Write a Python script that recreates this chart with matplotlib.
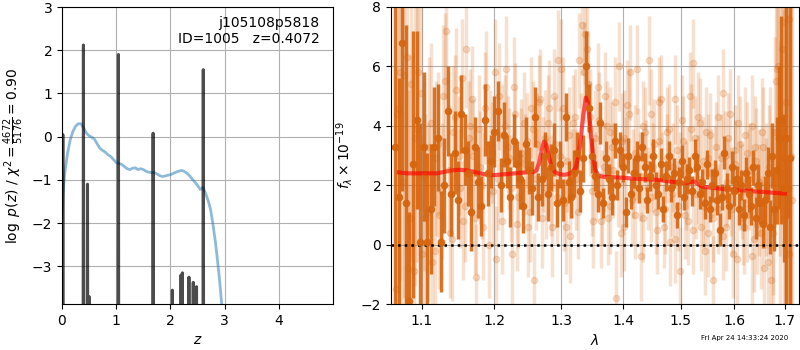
import numpy as np
import matplotlib
matplotlib.use("Agg")
import matplotlib.pyplot as plt
from matplotlib.ticker import ScalarFormatter, NullFormatter, FixedLocator, NullLocator

# ---------------- left panel data ----------------
chi_z = [0.0, 0.02, 0.05, 0.1, 0.15, 0.2, 0.25, 0.3, 0.35, 0.4, 0.45, 0.5, 0.55, 0.6,
         0.65, 0.7, 0.75, 0.8, 0.85, 0.9, 0.95, 1.0, 1.05, 1.1, 1.15, 1.2, 1.25, 1.3,
         1.35, 1.4, 1.45, 1.5, 1.55, 1.6, 1.65, 1.7, 1.75, 1.8, 1.85, 1.9, 1.95, 2.0,
         2.05, 2.1, 2.15, 2.2, 2.25, 2.3, 2.35, 2.4, 2.45, 2.5, 2.55, 2.6, 2.65, 2.7,
         2.74, 2.78, 2.83, 2.87, 2.9, 2.95]
chi_logp = [-1.9, -1.3, -0.85, -0.4, -0.08, 0.12, 0.24, 0.3, 0.3, 0.2, 0.08, 0.02, -0.01, -0.06,
            -0.17, -0.27, -0.32, -0.36, -0.42, -0.46, -0.53, -0.6, -0.62, -0.64, -0.69, -0.74, -0.76, -0.73,
            -0.72, -0.76, -0.74, -0.76, -0.8, -0.82, -0.83, -0.83, -0.86, -0.9, -0.92, -0.91, -0.89, -0.88,
            -0.85, -0.82, -0.8, -0.78, -0.8, -0.84, -0.9, -0.98, -1.05, -1.13, -1.22, -1.17, -1.32, -1.5,
            -1.69, -2.0, -2.45, -2.9, -3.25, -3.95]

peak_z = [0.015, 0.395, 0.47, 0.50, 1.04, 1.68, 2.035, 2.195, 2.22, 2.34, 2.42, 2.48, 2.605]
peak_logp = [0.05, 2.12, -1.1, -3.7, 1.9, 0.08, -3.55, -3.2, -3.15, -3.25, -3.37, -3.47, 1.55]

# ---------------- right panel data ----------------
dark_start, dark_step = 1.065, 0.00465
dark_flux = [
    3.3, 1.6, 6.8, 1.4, -1.9, 2.7, 4.2, 0.1, 3.3, 0.1,
    1.2, 3.3, 3.6, 0.1, 2.0, 4.5, 1.7, 3.1, 1.5, 4.4,
    3.2, 2.4, 1.1, 3.3, 2.1, 1.3, 4.2, 2.4, 2.8, 3.8,
    4.5, 2.0, 3.7, 2.8, 1.6, 3.5, 2.7, 2.2, 1.3, 3.4,
    2.5, 1.9, 4.3, 1.6, 2.2, 3.0, 1.7, 2.6, 3.2, 1.4,
    2.7, 1.5, 4.3, 2.1, 1.6, 2.4, 3.1, 1.8, 2.9, 6.0,
    4.6, 3.0, 2.3, 1.7, 4.1, 1.4, 2.9, 2.2, 1.6, 3.5,
    2.0, 3.2, 2.6, 1.1, 3.0, 1.7, 2.4, 2.9, 1.9, 3.3,
    2.6, 1.5, 2.3, 3.0, 2.0, 1.7, 2.7, 1.2, 2.3, 3.0,
    1.9, 2.4, 1.0, 2.1, 2.8, 1.6, 2.2, 2.5, 1.8, 3.0,
    2.6, 1.7, 2.1, 1.4, 2.7, 1.2, 2.0, 2.4, 1.5, 0.5,
    1.6, 3.1, 1.9, 1.3, 2.6, 1.8, 2.2, 1.2, 2.0, 1.0,
    2.4, 1.7, 1.3, 2.6, 0.9, 2.0, 1.4, 0.7, 1.5, 2.4,
    0.6, 3.0, 1.2, 2.5, 3.6, 4.2, 1.9, 3.6, 1.9, 2.9]
dark_err = [
    7.0, 4.0, 5.0, 6.0, 3.0, 4.5, 3.0, 4.0, 2.5, 3.0,
    2.2, 2.0, 1.8, 1.7, 1.6, 1.5, 1.4, 1.4, 1.3, 1.3,
    1.2, 1.1, 1.3, 1.0, 1.2, 1.0, 1.2, 1.1, 0.9, 1.2,
    1.0, 0.9, 1.1, 0.9, 1.0, 0.9, 0.8, 1.0, 0.9, 0.9,
    0.8, 0.9, 1.0, 0.8, 0.9, 0.8, 0.9, 0.8, 0.9, 0.8,
    0.8, 0.7, 0.8, 0.7, 0.7, 0.8, 0.7, 0.7, 0.8, 1.2,
    0.8, 0.6, 0.5, 0.6, 0.7, 0.5, 0.6, 0.5, 0.6, 0.6,
    0.5, 0.6, 0.5, 0.5, 0.6, 0.5, 0.5, 0.6, 0.5, 0.5,
    0.5, 0.45, 0.5, 0.55, 0.45, 0.5, 0.55, 0.45, 0.5, 0.5,
    0.45, 0.5, 0.45, 0.5, 0.55, 0.45, 0.5, 0.45, 0.5, 0.55,
    0.45, 0.5, 0.45, 0.55, 0.5, 0.45, 0.55, 0.45, 0.5, 0.55,
    0.45, 0.55, 0.5, 0.45, 0.55, 0.5, 0.45, 0.55, 0.5, 0.55,
    0.55, 0.6, 0.65, 0.6, 0.7, 0.7, 0.7, 0.8, 0.8, 0.9,
    0.9, 1.1, 1.4, 1.8, 2.4, 3.5, 2.5, 8.0, 1.0, 8.0]

light_start, light_step = 1.0673, 0.00465
light_flux = [
    4.4, 5.8, 5.7, -0.8, 5.4, 3.6, 5.8, -0.3, 0.9, 3.3,
    -0.6, 2.9, 1.0, 5.0, 7.2, 0.4, 3.8, 5.2, 1.9, 0.8,
    6.6, 4.0, 3.0, -1.1, 2.6, 0.6, 5.3, 3.4, 1.8, -0.5,
    5.0, 3.7, 5.9, 2.9, -0.3, 4.4, 1.6, 3.1, 2.7, 0.6,
    4.6, -1.2, 3.4, 4.9, 2.7, 1.9, 4.6, 0.6, 3.4, 6.2,
    5.9, 1.4, 2.8, 0.3, 4.1, 2.2, 6.2, 7.4, 7.1, 5.4,
    3.9, 0.8, 2.3, 4.2, 1.6, 5.0, 0.9, 3.8, 2.5, -1.8,
    6.0, 3.5, 0.6, 4.7, 5.8, 2.4, 1.0, 3.0, -0.4, 4.0,
    2.7, 6.2, 1.6, 3.4, 0.5, 4.8, 2.3, 1.2, 3.8, 0.1,
    2.6, 4.9, 1.3, -0.9, 3.5, 2.0, 0.8, 3.9, 6.1, 1.7,
    4.3, 0.6, 2.8, 3.8, 0.4, 2.4, -1.2, 3.3, 1.2, 2.9,
    5.1, 0.6, 3.6, 1.8, -0.3, 3.2, 4.1, 2.0, 0.9, 3.7,
    1.0, 2.5, -0.4, 3.3, 0.7, 2.1, 3.8, -0.8, 1.6, 2.6,
    -1.2, 0.4, 5.5, 6.0, 4.1, 7.5, 2.9, 3.6, -0.3, 1.5]
light_err = [
    8.0, 7.0, 7.5, 6.0, 6.0, 5.0, 4.5, 4.0, 3.5, 3.0,
    2.8, 2.6, 2.5, 2.4, 2.3, 2.2, 2.2, 2.1, 2.0, 2.0,
    2.0, 1.9, 1.9, 1.8, 1.9, 1.8, 1.9, 1.8, 1.8, 1.8,
    1.8, 1.7, 1.8, 1.7, 1.8, 1.7, 1.7, 1.8, 1.7, 1.7,
    1.7, 1.6, 1.7, 1.7, 1.6, 1.7, 1.6, 1.7, 1.6, 1.7,
    1.7, 1.6, 1.7, 1.6, 1.6, 1.7, 1.6, 1.7, 1.7, 1.8,
    1.6, 1.6, 1.5, 1.6, 1.6, 1.5, 1.6, 1.5, 1.6, 1.6,
    1.5, 1.6, 1.5, 1.5, 1.6, 1.5, 1.5, 1.6, 1.5, 1.5,
    1.5, 1.5, 1.5, 1.5, 1.5, 1.5, 1.5, 1.5, 1.5, 1.5,
    1.5, 1.5, 1.5, 1.5, 1.5, 1.5, 1.5, 1.5, 1.5, 1.5,
    1.5, 1.5, 1.5, 1.5, 1.5, 1.5, 1.5, 1.5, 1.5, 1.5,
    1.5, 1.5, 1.5, 1.5, 1.5, 1.5, 1.6, 1.5, 1.6, 1.6,
    1.6, 1.6, 1.7, 1.7, 1.7, 1.8, 1.8, 1.9, 2.0, 2.1,
    2.3, 2.6, 3.0, 3.5, 4.5, 5.5, 6.5, 8.0, 8.0, 8.0]

light2_start, light2_step = 1.0660, 0.00465
light2_flux = [
    -1.5, 4.6, 2.1, 6.3, 0.9, -0.9, 3.9, 5.1, 2.3, 1.1,
    4.1, -0.2, 3.4, 1.8, 5.5, 2.5, 0.2, 4.3, 3.0, 5.6,
    1.3, 3.6, 4.9, 0.9, 3.9, 2.0, 4.6, 0.0, 3.1, 5.8,
    2.2, 0.8, 4.0, 3.3, 1.9, 5.3, 0.7, 2.9, 4.1, 3.5,
    1.1, 3.9, 2.2, 4.8, 0.9, 3.6, 4.1, 2.0, 5.0, 1.6,
    3.0, 4.6, 0.6, 3.7, 2.4, 4.3, 1.1, 3.4, 5.8, 6.6,
    4.3, 1.8, 3.6, 5.3, 0.8, 2.6, 4.0, 1.3, 3.3, 4.8,
    2.1, 0.4, 3.6, 2.8, 4.4, 1.5, 3.1, 5.9, 2.3, 0.9,
    3.8, 1.9, 4.4, 2.6, 1.1, 3.5, 4.9, 0.6, 2.9, 3.9,
    1.7, 0.2, 3.2, 2.4, 4.2, 1.0, 2.6, 5.0, 0.5, 3.6,
    2.2, 4.1, 1.3, -0.2, 2.9, 3.7, 0.9, 2.5, 4.3, 1.6,
    0.3, 3.0, 2.1, 4.4, 1.2, 2.7, -0.5, 3.4, 1.8, 0.6,
    3.1, 2.2, 4.0, 0.2, 2.8, 1.5, 0.4, 3.3, 2.0, -0.6,
    2.9, 1.1, 3.8, 5.9, 2.4, 6.6, 0.9, 4.8, 7.6, 3.0]
light2_err = [
    7.5, 8.0, 7.0, 6.5, 5.5, 5.0, 4.5, 4.0, 3.2, 3.0,
    2.7, 2.6, 2.4, 2.3, 2.3, 2.2, 2.1, 2.1, 2.0, 2.0,
    1.9, 1.9, 1.8, 1.9, 1.8, 1.8, 1.9, 1.8, 1.7, 1.8,
    1.7, 1.8, 1.7, 1.7, 1.8, 1.7, 1.6, 1.7, 1.7, 1.6,
    1.7, 1.6, 1.7, 1.6, 1.7, 1.6, 1.6, 1.7, 1.6, 1.6,
    1.6, 1.7, 1.6, 1.6, 1.5, 1.6, 1.6, 1.7, 1.7, 1.8,
    1.6, 1.5, 1.6, 1.5, 1.6, 1.5, 1.5, 1.6, 1.5, 1.5,
    1.5, 1.5, 1.6, 1.5, 1.5, 1.5, 1.6, 1.5, 1.5, 1.5,
    1.5, 1.4, 1.5, 1.5, 1.4, 1.5, 1.5, 1.4, 1.5, 1.5,
    1.4, 1.5, 1.5, 1.4, 1.5, 1.5, 1.4, 1.5, 1.5, 1.4,
    1.5, 1.5, 1.4, 1.5, 1.5, 1.4, 1.5, 1.5, 1.4, 1.5,
    1.5, 1.5, 1.5, 1.5, 1.6, 1.5, 1.6, 1.6, 1.6, 1.6,
    1.7, 1.7, 1.7, 1.8, 1.8, 1.9, 1.9, 2.0, 2.1, 2.2,
    2.4, 2.8, 3.2, 3.8, 4.5, 5.5, 7.0, 8.0, 8.0, 8.0]

model_wave = [1.070, 1.080, 1.090, 1.100, 1.110, 1.120, 1.130, 1.140, 1.150, 1.160,
              1.170, 1.180, 1.190, 1.200, 1.210, 1.220, 1.230, 1.240, 1.250, 1.258,
              1.262, 1.266, 1.270, 1.2735, 1.277, 1.281, 1.285, 1.290, 1.297, 1.305,
              1.312, 1.318, 1.323, 1.327, 1.331, 1.335, 1.339, 1.342, 1.346, 1.350,
              1.354, 1.358, 1.363, 1.370, 1.380, 1.400, 1.420, 1.440, 1.460, 1.480,
              1.500, 1.510, 1.518, 1.524, 1.530, 1.536, 1.545, 1.560, 1.580, 1.600,
              1.620, 1.640, 1.660, 1.680, 1.700]
model_flux = [2.43, 2.40, 2.40, 2.40, 2.40, 2.40, 2.45, 2.50, 2.52, 2.50,
              2.45, 2.40, 2.35, 2.34, 2.36, 2.38, 2.40, 2.42, 2.44, 2.45,
              2.50, 2.75, 3.20, 3.47, 3.35, 2.95, 2.62, 2.45, 2.37, 2.35,
              2.38, 2.45, 2.60, 2.95, 3.60, 4.40, 4.95, 4.80, 4.00, 3.10,
              2.55, 2.35, 2.30, 2.28, 2.27, 2.25, 2.22, 2.20, 2.18, 2.13,
              2.08, 2.07, 2.10, 2.13, 2.06, 1.98, 1.94, 1.91, 1.87, 1.85,
              1.82, 1.79, 1.77, 1.74, 1.72]

x_ticks = [1.1, 1.2, 1.3, 1.4, 1.5, 1.6, 1.7]

# ---------------- figure ----------------
fig = plt.figure(figsize=(8, 3.5), dpi=100)
ax1 = fig.add_axes([0.0775, 0.1314, 0.339, 0.8486])
ax2 = fig.add_axes([0.4888, 0.1314, 0.510, 0.8486])

# left panel
ax1.plot(chi_z, chi_logp, color='tab:blue', alpha=0.5, lw=2)
hw = 0.009
sz, sy = [], []
for z0, p0 in zip(peak_z, peak_logp):
    sz += [z0 - hw, z0, z0 + hw]
    sy += [-10, p0, -10]
ax1.plot(sz, sy, color='k', alpha=0.7, lw=2.2)
ax1.set_xlim(0, 5.0)
ax1.set_ylim(-3.87, 3)
ax1.set_xticks([0, 1, 2, 3, 4])
ax1.set_yticks([-3, -2, -1, 0, 1, 2, 3])
ax1.grid(True)
ax1.set_xlabel(r'$z$')
ax1.set_ylabel(r'$\log\ p(z)$ / $\chi^2=\frac{4672}{5176}=0.90$')
ax1.text(0.95, 0.97, 'j105108p5818\nID=1005   z=0.4072', transform=ax1.transAxes,
         ha='right', va='top', fontsize=10)

# right panel
oc = '#d6650f'
w_l = np.array(light_start) + light_step * np.arange(len(light_flux))
w_l2 = np.array(light2_start) + light2_step * np.arange(len(light2_flux))
w_d = np.array(dark_start) + dark_step * np.arange(len(dark_flux))
ax2.errorbar(w_l, light_flux, yerr=light_err, fmt='o', color=oc, alpha=0.2,
             markersize=4.5, elinewidth=2.5, capsize=0)
ax2.errorbar(w_l2, light2_flux, yerr=light2_err, fmt='o', color=oc, alpha=0.2,
             markersize=4.5, elinewidth=2.5, capsize=0)
ax2.errorbar(w_d, dark_flux, yerr=dark_err, fmt='o', color=oc, alpha=0.9,
             markersize=4.5, elinewidth=2.5, capsize=0)
ax2.plot(model_wave, model_flux, color='red', alpha=0.65, lw=3)
ax2.axhline(0, color='k', ls=':', lw=1.8)
ax2.set_xscale('log')
ax2.set_xlim(1.06, 1.729)
ax2.set_ylim(-2, 8)
ax2.xaxis.set_major_locator(FixedLocator(x_ticks))
ax2.xaxis.set_major_formatter(ScalarFormatter())
ax2.xaxis.set_minor_locator(NullLocator())
ax2.xaxis.set_minor_formatter(NullFormatter())
ax2.set_yticks([-2, 0, 2, 4, 6, 8])
ax2.grid(True)
ax2.set_xlabel(r'$\lambda$')
ax2.set_ylabel(r'$f_\lambda\times10^{-19}$')

fig.text(0.985, 0.025, 'Fri Apr 24 14:33:24 2020', ha='right', va='bottom', fontsize=5)

fig.savefig('out.png', dpi=100)
